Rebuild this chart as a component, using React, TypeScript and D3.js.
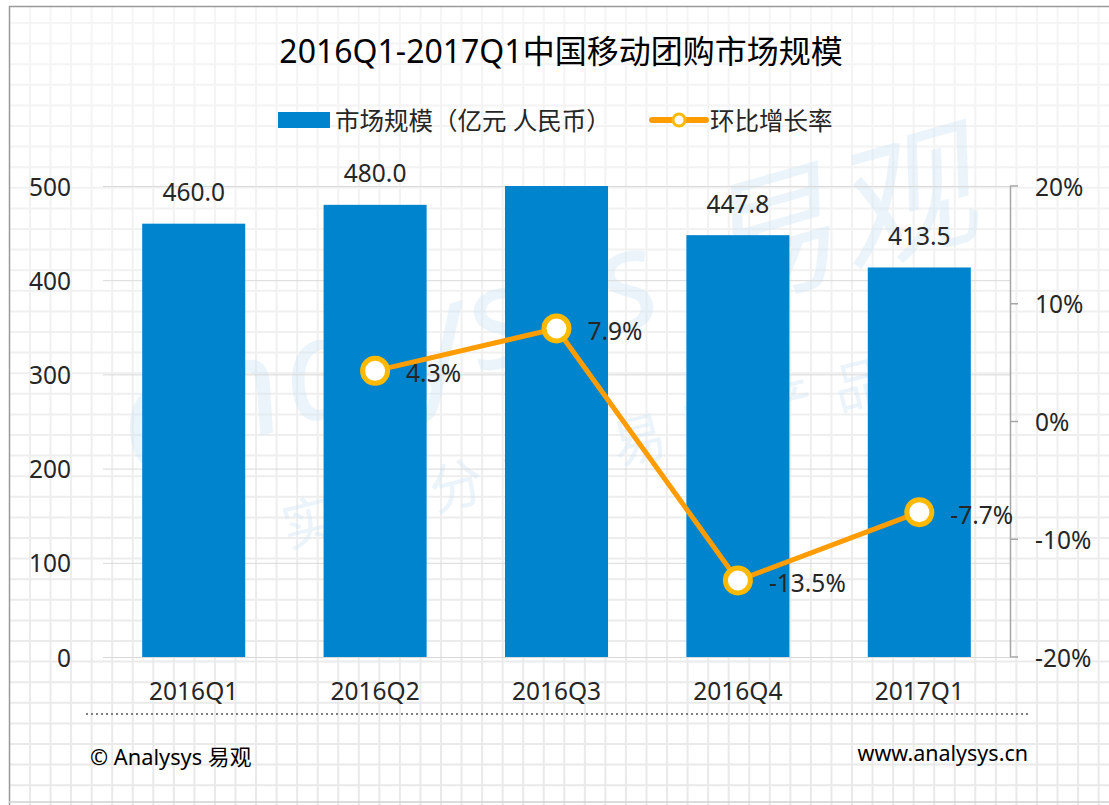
import React from 'react';
import * as d3 from 'd3';

const categories = ['2016Q1', '2016Q2', '2016Q3', '2016Q4', '2017Q1'];
const marketSize = [460.0, 480.0, 517.9, 447.8, 413.5];
const growthRate: (number | null)[] = [null, 4.3, 7.9, -13.5, -7.7];
const leftTicks = [0, 100, 200, 300, 400, 500];
const rightTicks = [-20, -10, 0, 10, 20];

const W = 1109;
const H = 805;
const FONT = "'Noto Sans', 'Noto Sans CJK SC', sans-serif";
const BLUE = '#0084CD';
const ORANGE = '#FF9C00';
const MARKER = '#FFB900';
const TEXT = '#262626';
const FS = 24.5;

export default function App() {
  const x = d3.scaleBand<string>().domain(categories).range([103, 1010]).paddingInner(0.432).paddingOuter(0.216);
  const yL = d3.scaleLinear().domain([0, 500]).range([657, 186]).clamp(true);
  const yR = d3.scaleLinear().domain([-20, 20]).range([657, 186]);

  const gridX = d3.range(30, W, 20.55);
  const gridY = d3.range(23, H, 20.6);

  const pts = categories
    .map((c, i) => ({ c, v: growthRate[i] }))
    .filter((d) => d.v !== null) as { c: string; v: number }[];
  const line = d3
    .line<{ c: string; v: number }>()
    .x((d) => (x(d.c) as number) + x.bandwidth() / 2)
    .y((d) => yR(d.v));

  return (
    <div style={{ position: 'fixed', left: 0, top: 0, width: W, height: H, background: '#fff' }}>
      <svg width={W} height={H} style={{ display: 'block', fontFamily: FONT }}>
        <defs>
          <linearGradient id="fade" x1="0" y1="0" x2="0" y2="1">
            <stop offset="0" stopColor="#fff" stopOpacity={0.55} />
            <stop offset="1" stopColor="#fff" stopOpacity={0} />
          </linearGradient>
        </defs>
        <rect x={0} y={0} width={W} height={H} fill="#fff" />
        <g stroke="#e9e9e9" strokeWidth={2}>
          {gridX.map((gx, i) => (
            <line key={'gx' + i} x1={gx} x2={gx} y1={6} y2={H} />
          ))}
          {gridY.map((gy, i) => (
            <line key={'gy' + i} x1={9} x2={W} y1={gy} y2={gy} />
          ))}
        </g>
        <rect x={0} y={0} width={W} height={H} fill="url(#fade)" />
        <path d={`M9.5,${H} L9.5,6.5 L${W},6.5`} fill="none" stroke="#9a9a9a" strokeWidth={1.5} />
        <line x1={9} x2={W} y1={802} y2={802} stroke="#d0d0d0" strokeWidth={1.5} />

        {/* watermark */}
        <g fill="#cfe6f4" opacity={0.4}>
          <text x={560} y={350} fontSize={140} fontWeight={400} fontStyle="italic" textAnchor="middle"
            transform="rotate(-16 560 350)" letterSpacing={4}>analysys 易观</text>
          <text x={600} y={470} fontSize={54} textAnchor="middle" transform="rotate(-14 600 470)" letterSpacing={22}>
            实时分析 易观产品
          </text>
        </g>

        {/* title */}
        <text x={561} y={50} fontSize={32} fill="#000" textAnchor="middle" dominantBaseline="central">
          2016Q1-2017Q1中国移动团购市场规模
        </text>

        {/* legend */}
        <rect x={278} y={112} width={52} height={16} fill={BLUE} />
        <text x={335} y={120} fontSize={FS} fill={TEXT} dominantBaseline="central">市场规模（亿元 人民币）</text>
        <line x1={652} x2={706} y1={120} y2={120} stroke={ORANGE} strokeWidth={6} strokeLinecap="round" />
        <circle cx={679} cy={120} r={6} fill="#fff" stroke={MARKER} strokeWidth={3} />
        <text x={710} y={120} fontSize={FS} fill={TEXT} dominantBaseline="central">环比增长率</text>

        {/* horizontal gridlines */}
        <g stroke="#d9d9d9" strokeWidth={1}>
          {leftTicks.map((t) => (
            <line key={t} x1={103} x2={1010} y1={yL(t) + 0.5} y2={yL(t) + 0.5} />
          ))}
        </g>

        {/* left axis labels */}
        {leftTicks.map((t) => (
          <text key={'l' + t} x={71} y={yL(t)} fontSize={FS} fill={TEXT} textAnchor="end" dominantBaseline="central">
            {t}
          </text>
        ))}

        {/* bars */}
        {categories.map((c, i) => (
          <rect key={c} x={x(c)} y={yL(marketSize[i])} width={x.bandwidth()} height={yL(0) - yL(marketSize[i])} fill={BLUE} />
        ))}
        {categories.map((c, i) =>
          marketSize[i] <= 500 ? (
            <text key={'v' + c} x={(x(c) as number) + x.bandwidth() / 2} y={yL(marketSize[i]) - 32} fontSize={FS}
              fill={TEXT} textAnchor="middle" dominantBaseline="central">
              {marketSize[i].toFixed(1)}
            </text>
          ) : null
        )}

        {/* right axis */}
        <line x1={1010.5} x2={1010.5} y1={yR(20)} y2={yR(-20)} stroke="#a6a6a6" strokeWidth={1.5} />
        {rightTicks.map((t) => (
          <g key={'r' + t}>
            <line x1={1010} x2={1018} y1={yR(t)} y2={yR(t)} stroke="#a6a6a6" strokeWidth={1.5} />
            <text x={1035} y={yR(t)} fontSize={FS} fill={TEXT} dominantBaseline="central">{t}%</text>
          </g>
        ))}

        {/* line series */}
        <path d={line(pts) || ''} fill="none" stroke={ORANGE} strokeWidth={5} strokeLinejoin="round" />
        {pts.map((d) => {
          const cx = (x(d.c) as number) + x.bandwidth() / 2;
          return (
            <g key={'p' + d.c}>
              <circle cx={cx} cy={yR(d.v)} r={12.5} fill="#fff" stroke={MARKER} strokeWidth={5} />
              <text x={cx + 31} y={yR(d.v) + 2} fontSize={FS} fill={TEXT} dominantBaseline="central">
                {d.v.toFixed(1)}%
              </text>
            </g>
          );
        })}

        {/* x labels */}
        {categories.map((c) => (
          <text key={'x' + c} x={(x(c) as number) + x.bandwidth() / 2} y={690} fontSize={FS} fill={TEXT}
            textAnchor="middle" dominantBaseline="central">
            {c}
          </text>
        ))}

        {/* footer */}
        <line x1={86} x2={1030} y1={714} y2={714} stroke="#7f7f7f" strokeWidth={2} strokeDasharray="2,3" />
        <text x={90} y={756} fontSize={21.8} fill="#000" dominantBaseline="central">© Analysys 易观</text>
        <text x={1028} y={752} fontSize={21.5} fill="#000" textAnchor="end" dominantBaseline="central">www.analysys.cn</text>
      </svg>
    </div>
  );
}
